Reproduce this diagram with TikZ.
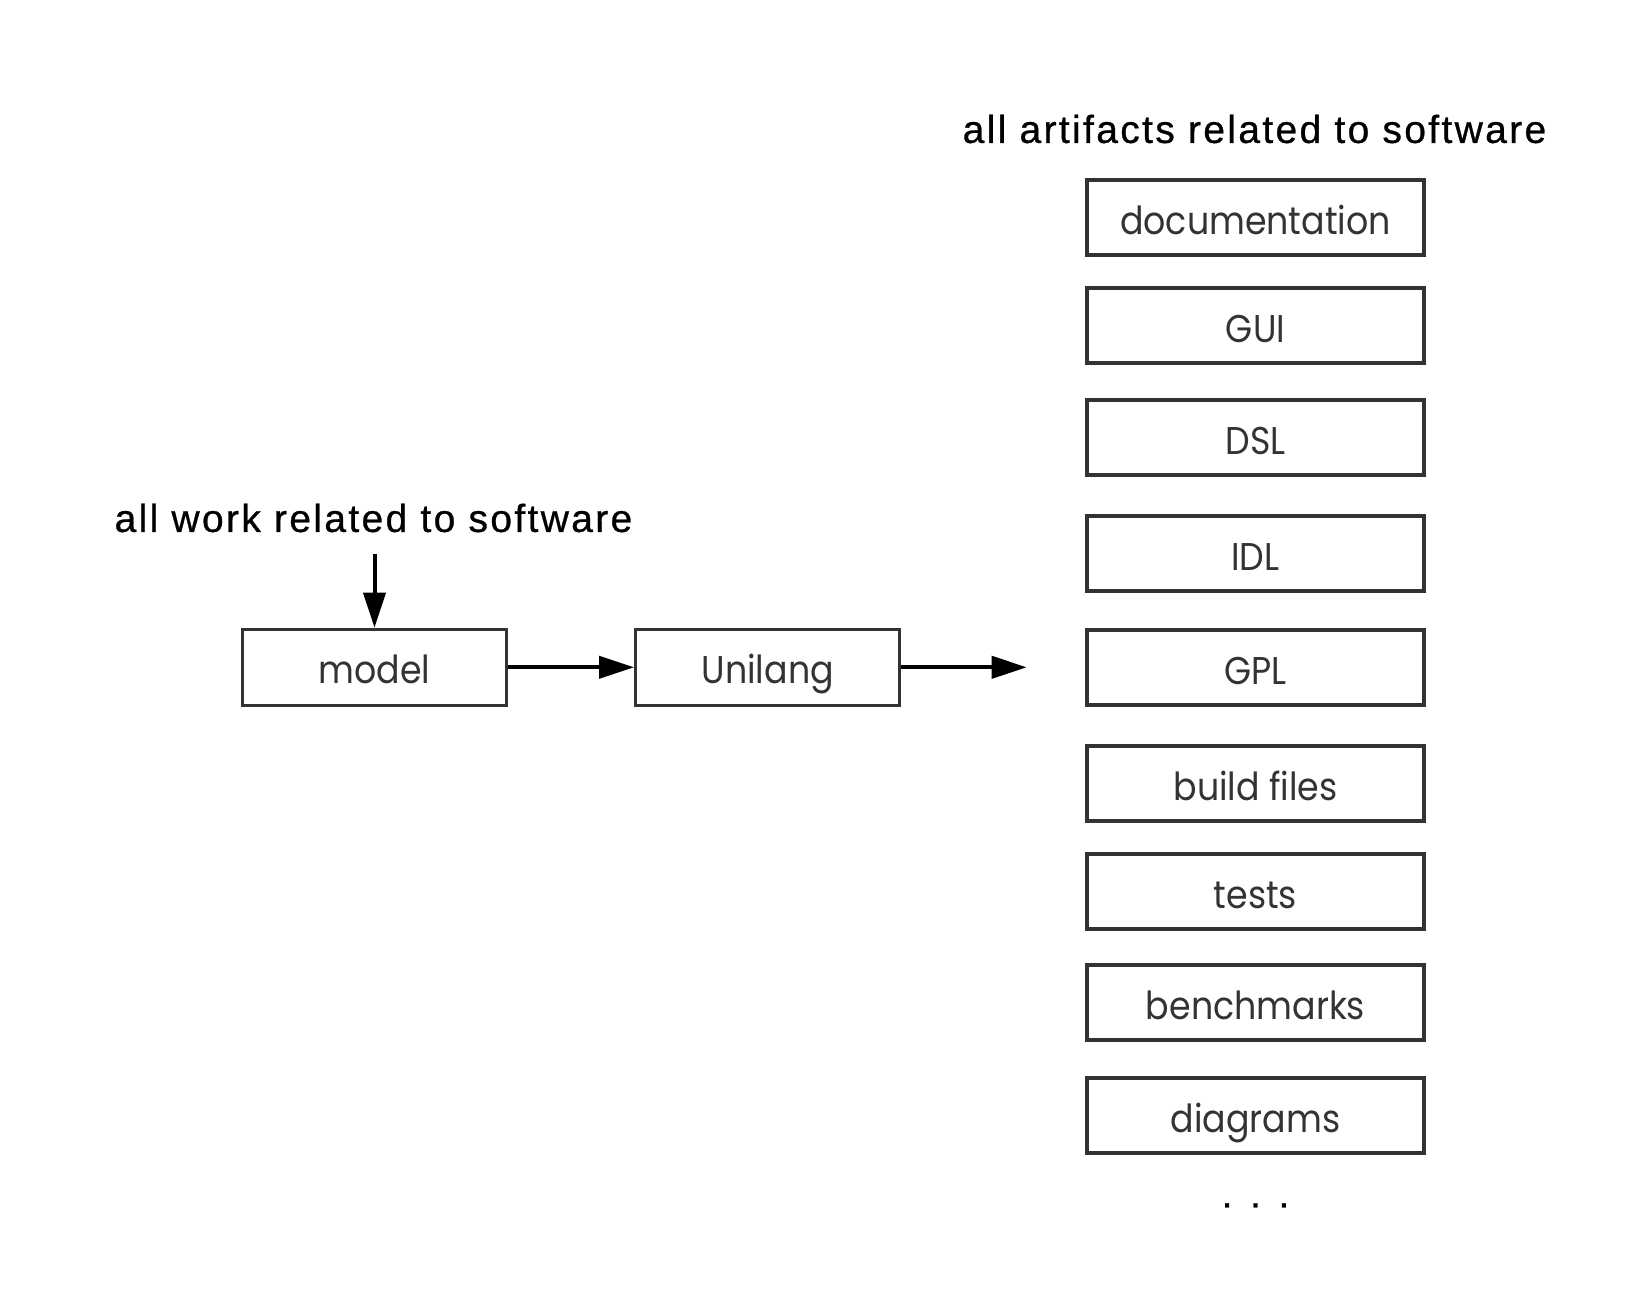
\documentclass[tikz,border=0pt]{standalone}
\usepackage{fontspec}
\setmainfont{Liberation Sans}
\newfontfamily\boxfont[FakeStretch=0.9]{Poppins}
\newfontfamily\labelfont[LetterSpace=6, FakeBold=0.7]{Liberation Sans}
\usepackage{tikz}
\usetikzlibrary{calc}
\usetikzlibrary{positioning}
\usetikzlibrary{arrows.meta}
\definecolor{boxgray}{HTML}{333333}
\tikzstyle{artnode} = [draw=boxgray, line width=1pt, minimum width=101.1pt, minimum height=22.5pt, inner sep=0pt, text height=11pt, text depth=1pt, text=boxgray, font=\boxfont\fontsize{11.6}{14}\selectfont]
\tikzstyle{stagenode} = [artnode, minimum width=79.2pt, minimum height=22.8pt]
\tikzstyle{titlenode} = [inner sep=0pt, font=\labelfont\fontsize{11.7}{13}\selectfont]
\tikzstyle{flow} = [-{Triangle[length=10.5pt, width=6.6pt]}, line width=1.2pt]

\begin{document}
\begin{tikzpicture}[x=0.3pt, y=0.3pt]
\useasboundingbox (0,0) rectangle (1631,1309);
% left side
\node[stagenode] (model) at (374.5,641.7) {model};
\node[stagenode] (unilang) at ($(model)+(393.2,0)$) {Unilang};
\node[titlenode] (work) at ($(model)+(-1,149.3)$) {all work related to software};
\coordinate (workin) at ($(model)+(0,113)$);
\coordinate (out) at ($(unilang)+(259,0)$);
\draw[flow] (workin) -- (model);
\draw[flow] (model) -- (unilang);
\draw[flow] (unilang) -- (out);

% artifacts column
\node[artnode] (doc) at (1255.5,1091.6) {documentation};
\node[artnode] (gui) at ($(doc)+(0,-108)$) {GUI};
\node[artnode] (dsl) at ($(gui)+(0,-112)$) {DSL};
\node[artnode] (idl) at ($(dsl)+(0,-116)$) {IDL};
\node[artnode] (gpl) at ($(idl)+(0,-114)$) {GPL};
\node[artnode] (build) at ($(gpl)+(0,-116)$) {build files};
\node[artnode] (tests) at ($(build)+(0,-108)$) {tests};
\node[artnode] (bench) at ($(tests)+(0,-111)$) {benchmarks};
\node[artnode] (diag) at ($(bench)+(0,-113)$) {diagrams};
\node[titlenode] (dots) at ($(diag)+(0,-90)$) {. . .};
\node[titlenode] (artifacts) at ($(doc)+(-1,88.4)$) {all artifacts related to software};
\end{tikzpicture}
\end{document}
